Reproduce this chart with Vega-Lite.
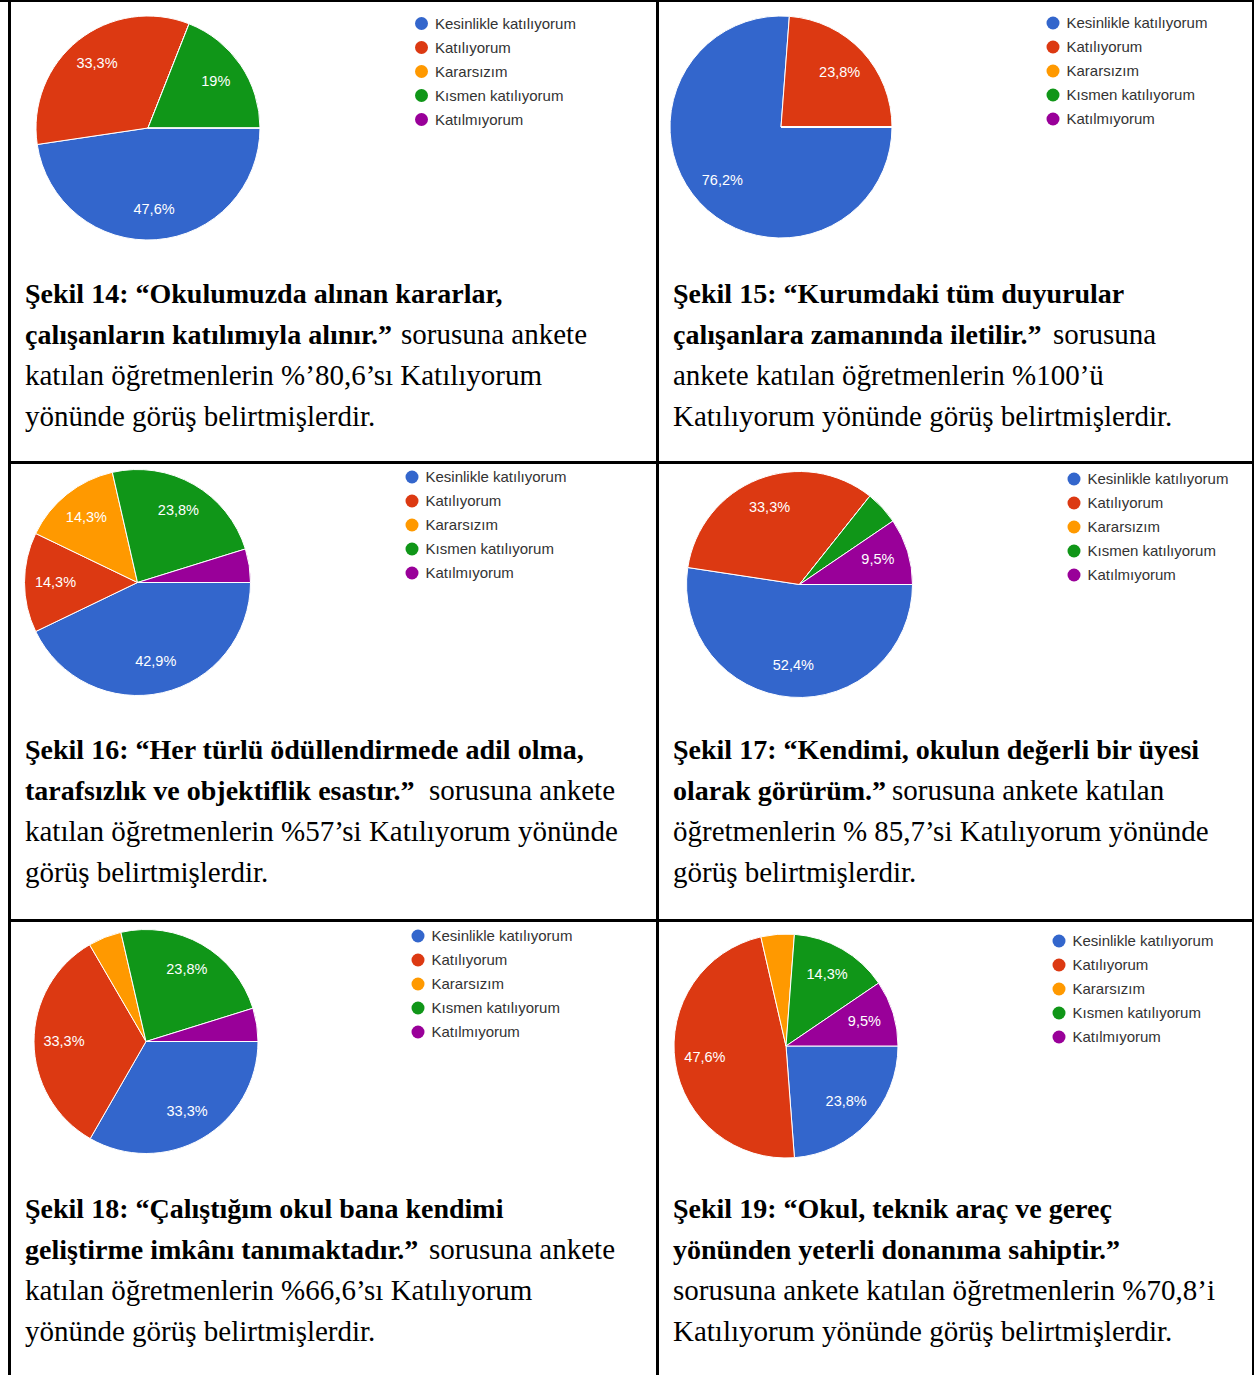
{
  "$schema": "https://vega.github.io/schema/vega-lite/v6.json",
  "background": "#000000",
  "padding": {"left": 0, "top": 2, "right": 2, "bottom": 0},
  "config": {
    "view": {"stroke": null, "fill": "#ffffff"},
    "legend": {"symbolSize": 169, "symbolType": "circle", "symbolOpacity": 1, "symbolStrokeWidth": 0, "labelFont": "Liberation Sans", "labelFontSize": 15, "labelColor": "#333333", "labelOffset": 6, "rowPadding": 8, "padding": 0, "labelLimit": 300}
  },
  "datasets": {
    "p14": [{"cat": "Kesinlikle katılıyorum", "k": 1, "v": 47.6, "lbl": "47,6%"}, {"cat": "Katılıyorum", "k": 2, "v": 33.3, "lbl": "33,3%"}, {"cat": "Kararsızım", "k": 3, "v": 0, "lbl": ""}, {"cat": "Kısmen katılıyorum", "k": 4, "v": 19, "lbl": "19%"}, {"cat": "Katılmıyorum", "k": 5, "v": 0, "lbl": ""}],
    "p15": [{"cat": "Kesinlikle katılıyorum", "k": 1, "v": 76.2, "lbl": "76,2%"}, {"cat": "Katılıyorum", "k": 2, "v": 23.8, "lbl": "23,8%"}, {"cat": "Kararsızım", "k": 3, "v": 0, "lbl": ""}, {"cat": "Kısmen katılıyorum", "k": 4, "v": 0, "lbl": ""}, {"cat": "Katılmıyorum", "k": 5, "v": 0, "lbl": ""}],
    "p16": [{"cat": "Kesinlikle katılıyorum", "k": 1, "v": 42.9, "lbl": "42,9%"}, {"cat": "Katılıyorum", "k": 2, "v": 14.3, "lbl": "14,3%"}, {"cat": "Kararsızım", "k": 3, "v": 14.3, "lbl": "14,3%"}, {"cat": "Kısmen katılıyorum", "k": 4, "v": 23.8, "lbl": "23,8%"}, {"cat": "Katılmıyorum", "k": 5, "v": 4.8, "lbl": ""}],
    "p17": [{"cat": "Kesinlikle katılıyorum", "k": 1, "v": 52.4, "lbl": "52,4%"}, {"cat": "Katılıyorum", "k": 2, "v": 33.3, "lbl": "33,3%"}, {"cat": "Kararsızım", "k": 3, "v": 0, "lbl": ""}, {"cat": "Kısmen katılıyorum", "k": 4, "v": 4.8, "lbl": ""}, {"cat": "Katılmıyorum", "k": 5, "v": 9.5, "lbl": "9,5%"}],
    "p18": [{"cat": "Kesinlikle katılıyorum", "k": 1, "v": 33.3, "lbl": "33,3%"}, {"cat": "Katılıyorum", "k": 2, "v": 33.3, "lbl": "33,3%"}, {"cat": "Kararsızım", "k": 3, "v": 4.8, "lbl": ""}, {"cat": "Kısmen katılıyorum", "k": 4, "v": 23.8, "lbl": "23,8%"}, {"cat": "Katılmıyorum", "k": 5, "v": 4.8, "lbl": ""}],
    "p19": [{"cat": "Kesinlikle katılıyorum", "k": 1, "v": 23.8, "lbl": "23,8%"}, {"cat": "Katılıyorum", "k": 2, "v": 47.6, "lbl": "47,6%"}, {"cat": "Kararsızım", "k": 3, "v": 4.8, "lbl": ""}, {"cat": "Kısmen katılıyorum", "k": 4, "v": 14.3, "lbl": "14,3%"}, {"cat": "Katılmıyorum", "k": 5, "v": 9.5, "lbl": "9,5%"}],
    "c14": [{"line": 0, "seg": 0, "role": "q", "text": "Şekil 14: “Okulumuzda alınan kararlar,"}, {"line": 1, "seg": 0, "role": "q", "text": "çalışanların katılımıyla alınır.”"}, {"line": 1, "seg": 1, "role": "a", "text": "sorusuna ankete"}, {"line": 2, "seg": 0, "role": "a", "text": "katılan öğretmenlerin %’80,6’sı Katılıyorum"}, {"line": 3, "seg": 0, "role": "a", "text": "yönünde görüş belirtmişlerdir."}],
    "c15": [{"line": 0, "seg": 0, "role": "q", "text": "Şekil 15: “Kurumdaki tüm duyurular"}, {"line": 1, "seg": 0, "role": "q", "text": "çalışanlara zamanında iletilir.”"}, {"line": 1, "seg": 1, "role": "a", "text": "sorusuna"}, {"line": 2, "seg": 0, "role": "a", "text": "ankete katılan öğretmenlerin %100’ü"}, {"line": 3, "seg": 0, "role": "a", "text": "Katılıyorum yönünde görüş belirtmişlerdir."}],
    "c16": [{"line": 0, "seg": 0, "role": "q", "text": "Şekil 16: “Her türlü ödüllendirmede adil olma,"}, {"line": 1, "seg": 0, "role": "q", "text": "tarafsızlık ve objektiflik esastır.”"}, {"line": 1, "seg": 1, "role": "a", "text": "sorusuna ankete"}, {"line": 2, "seg": 0, "role": "a", "text": "katılan öğretmenlerin %57’si Katılıyorum yönünde"}, {"line": 3, "seg": 0, "role": "a", "text": "görüş belirtmişlerdir."}],
    "c17": [{"line": 0, "seg": 0, "role": "q", "text": "Şekil 17: “Kendimi, okulun değerli bir üyesi"}, {"line": 1, "seg": 0, "role": "q", "text": "olarak görürüm.”"}, {"line": 1, "seg": 1, "role": "a", "text": "sorusuna ankete katılan"}, {"line": 2, "seg": 0, "role": "a", "text": "öğretmenlerin % 85,7’si Katılıyorum yönünde"}, {"line": 3, "seg": 0, "role": "a", "text": "görüş belirtmişlerdir."}],
    "c18": [{"line": 0, "seg": 0, "role": "q", "text": "Şekil 18: “Çalıştığım okul bana kendimi"}, {"line": 1, "seg": 0, "role": "q", "text": "geliştirme imkânı tanımaktadır.”"}, {"line": 1, "seg": 1, "role": "a", "text": "sorusuna ankete"}, {"line": 2, "seg": 0, "role": "a", "text": "katılan öğretmenlerin %66,6’sı Katılıyorum"}, {"line": 3, "seg": 0, "role": "a", "text": "yönünde görüş belirtmişlerdir."}],
    "c19": [{"line": 0, "seg": 0, "role": "q", "text": "Şekil 19: “Okul, teknik araç ve gereç"}, {"line": 1, "seg": 0, "role": "q", "text": "yönünden yeterli donanıma sahiptir.”"}, {"line": 2, "seg": 0, "role": "a", "text": "sorusuna ankete katılan öğretmenlerin %70,8’i"}, {"line": 3, "seg": 0, "role": "a", "text": "Katılıyorum yönünde görüş belirtmişlerdir."}]
  },
  "resolve": {"scale": {"color": "independent", "theta": "independent", "x": "independent", "y": "independent"}, "legend": {"color": "independent"}},
  "spacing": 3,
  "hconcat": [
    {"width": 8, "height": 1373, "view": {"fill": "#ffffff", "stroke": null}, "data": {"values": [{"t": ""}]}, "mark": {"type": "text"}, "encoding": {"text": {"field": "t"}}},
    {
      "vconcat": [
        {
          "hconcat": [
            {
              "vconcat": [
                {"hconcat": [
                  {"width": 274, "height": 252, "view": {"fill": "#ffffff", "stroke": null}, "data": {"name": "p14"}, "encoding": {"theta": {"field": "v", "type": "quantitative", "stack": true, "scale": {"range": [1.5707963, 7.8539816]}}, "order": {"field": "k", "type": "quantitative"}},
                   "layer": [
                     {"mark": {"type": "arc", "radius": 112, "stroke": "#ffffff", "strokeWidth": 1}, "encoding": {"color": {"field": "cat", "type": "nominal", "scale": {"domain": ["Kesinlikle katılıyorum", "Katılıyorum", "Kararsızım", "Kısmen katılıyorum", "Katılmıyorum"], "range": ["#3366cc", "#dc3912", "#ff9900", "#109618", "#990099"]}, "legend": null}}},
                     {"mark": {"type": "text", "radius": 82, "fill": "#ffffff", "font": "Liberation Sans", "fontSize": 14.5}, "encoding": {"text": {"field": "lbl"}}}
                   ]},
                  {"width": 371, "height": 252, "view": {"fill": "#ffffff", "stroke": null}, "data": {"name": "p14"}, "mark": {"type": "circle", "opacity": 0}, "encoding": {"color": {"field": "cat", "type": "nominal", "scale": {"domain": ["Kesinlikle katılıyorum", "Katılıyorum", "Kararsızım", "Kısmen katılıyorum", "Katılmıyorum"], "range": ["#3366cc", "#dc3912", "#ff9900", "#109618", "#990099"]}, "legend": {"title": null, "orient": "none", "legendX": 129, "legendY": 14}}}}
                ], "spacing": 0, "resolve": {"scale": {"color": "independent", "theta": "independent", "x": "independent", "y": "independent"}, "legend": {"color": "independent"}}},
                {"width": 645, "height": 207, "data": {"name": "c14"},
                 "encoding": {"x": {"field": "seg", "type": "quantitative", "scale": {"domain": [0, 1], "range": [14, 390]}, "axis": null}, "y": {"field": "line", "type": "quantitative", "scale": {"domain": [0, 3], "range": [49, 172]}, "axis": null}, "text": {"field": "text"}},
                 "layer": [
                   {"transform": [{"filter": "datum.role == 'q'"}], "mark": {"type": "text", "align": "left", "baseline": "alphabetic", "font": "Liberation Serif", "fontSize": 28, "fontWeight": "bold", "fill": "#000000"}},
                   {"transform": [{"filter": "datum.role == 'a'"}], "mark": {"type": "text", "align": "left", "baseline": "alphabetic", "font": "Liberation Serif", "fontSize": 29, "fill": "#000000"}}
                 ]}
              ], "spacing": 0, "resolve": {"scale": {"color": "independent", "theta": "independent", "x": "independent", "y": "independent"}, "legend": {"color": "independent"}}
            },
            {
              "vconcat": [
                {"hconcat": [
                  {"width": 244, "height": 250, "view": {"fill": "#ffffff", "stroke": null}, "data": {"name": "p15"}, "encoding": {"theta": {"field": "v", "type": "quantitative", "stack": true, "scale": {"range": [1.5707963, 7.8539816]}}, "order": {"field": "k", "type": "quantitative"}},
                   "layer": [
                     {"mark": {"type": "arc", "radius": 111, "stroke": "#ffffff", "strokeWidth": 1}, "encoding": {"color": {"field": "cat", "type": "nominal", "scale": {"domain": ["Kesinlikle katılıyorum", "Katılıyorum", "Kararsızım", "Kısmen katılıyorum", "Katılmıyorum"], "range": ["#3366cc", "#dc3912", "#ff9900", "#109618", "#990099"]}, "legend": null}}},
                     {"mark": {"type": "text", "radius": 80, "fill": "#ffffff", "font": "Liberation Sans", "fontSize": 14.5}, "encoding": {"text": {"field": "lbl"}}}
                   ]},
                  {"width": 349, "height": 250, "view": {"fill": "#ffffff", "stroke": null}, "data": {"name": "p15"}, "mark": {"type": "circle", "opacity": 0}, "encoding": {"color": {"field": "cat", "type": "nominal", "scale": {"domain": ["Kesinlikle katılıyorum", "Katılıyorum", "Kararsızım", "Kısmen katılıyorum", "Katılmıyorum"], "range": ["#3366cc", "#dc3912", "#ff9900", "#109618", "#990099"]}, "legend": {"title": null, "orient": "none", "legendX": 142.5, "legendY": 13.5}}}}
                ], "spacing": 0, "resolve": {"scale": {"color": "independent", "theta": "independent", "x": "independent", "y": "independent"}, "legend": {"color": "independent"}}},
                {"width": 593, "height": 209, "data": {"name": "c15"},
                 "encoding": {"x": {"field": "seg", "type": "quantitative", "scale": {"domain": [0, 1], "range": [14, 394]}, "axis": null}, "y": {"field": "line", "type": "quantitative", "scale": {"domain": [0, 3], "range": [51, 174]}, "axis": null}, "text": {"field": "text"}},
                 "layer": [
                   {"transform": [{"filter": "datum.role == 'q'"}], "mark": {"type": "text", "align": "left", "baseline": "alphabetic", "font": "Liberation Serif", "fontSize": 28, "fontWeight": "bold", "fill": "#000000"}},
                   {"transform": [{"filter": "datum.role == 'a'"}], "mark": {"type": "text", "align": "left", "baseline": "alphabetic", "font": "Liberation Serif", "fontSize": 29, "fill": "#000000"}}
                 ]}
              ], "spacing": 0, "resolve": {"scale": {"color": "independent", "theta": "independent", "x": "independent", "y": "independent"}, "legend": {"color": "independent"}}
            }
          ], "spacing": 3, "resolve": {"scale": {"color": "independent", "theta": "independent", "x": "independent", "y": "independent"}, "legend": {"color": "independent"}}
        },
        {
          "hconcat": [
            {
              "vconcat": [
                {"hconcat": [
                  {"width": 253, "height": 237, "view": {"fill": "#ffffff", "stroke": null}, "data": {"name": "p16"}, "encoding": {"theta": {"field": "v", "type": "quantitative", "stack": true, "scale": {"range": [1.5707963, 7.8539816]}}, "order": {"field": "k", "type": "quantitative"}},
                   "layer": [
                     {"mark": {"type": "arc", "radius": 113, "stroke": "#ffffff", "strokeWidth": 1}, "encoding": {"color": {"field": "cat", "type": "nominal", "scale": {"domain": ["Kesinlikle katılıyorum", "Katılıyorum", "Kararsızım", "Kısmen katılıyorum", "Katılmıyorum"], "range": ["#3366cc", "#dc3912", "#ff9900", "#109618", "#990099"]}, "legend": null}}},
                     {"mark": {"type": "text", "radius": 82, "fill": "#ffffff", "font": "Liberation Sans", "fontSize": 14.5}, "encoding": {"text": {"field": "lbl"}}}
                   ]},
                  {"width": 392, "height": 237, "view": {"fill": "#ffffff", "stroke": null}, "data": {"name": "p16"}, "mark": {"type": "circle", "opacity": 0}, "encoding": {"color": {"field": "cat", "type": "nominal", "scale": {"domain": ["Kesinlikle katılıyorum", "Katılıyorum", "Kararsızım", "Kısmen katılıyorum", "Katılmıyorum"], "range": ["#3366cc", "#dc3912", "#ff9900", "#109618", "#990099"]}, "legend": {"title": null, "orient": "none", "legendX": 140.5, "legendY": 5.5}}}}
                ], "spacing": 0, "resolve": {"scale": {"color": "independent", "theta": "independent", "x": "independent", "y": "independent"}, "legend": {"color": "independent"}}},
                {"width": 645, "height": 218, "data": {"name": "c16"},
                 "encoding": {"x": {"field": "seg", "type": "quantitative", "scale": {"domain": [0, 1], "range": [14, 418]}, "axis": null}, "y": {"field": "line", "type": "quantitative", "scale": {"domain": [0, 3], "range": [58, 181]}, "axis": null}, "text": {"field": "text"}},
                 "layer": [
                   {"transform": [{"filter": "datum.role == 'q'"}], "mark": {"type": "text", "align": "left", "baseline": "alphabetic", "font": "Liberation Serif", "fontSize": 28, "fontWeight": "bold", "fill": "#000000"}},
                   {"transform": [{"filter": "datum.role == 'a'"}], "mark": {"type": "text", "align": "left", "baseline": "alphabetic", "font": "Liberation Serif", "fontSize": 29, "fill": "#000000"}}
                 ]}
              ], "spacing": 0, "resolve": {"scale": {"color": "independent", "theta": "independent", "x": "independent", "y": "independent"}, "legend": {"color": "independent"}}
            },
            {
              "vconcat": [
                {"hconcat": [
                  {"width": 281, "height": 241, "view": {"fill": "#ffffff", "stroke": null}, "data": {"name": "p17"}, "encoding": {"theta": {"field": "v", "type": "quantitative", "stack": true, "scale": {"range": [1.5707963, 7.8539816]}}, "order": {"field": "k", "type": "quantitative"}},
                   "layer": [
                     {"mark": {"type": "arc", "radius": 113, "stroke": "#ffffff", "strokeWidth": 1}, "encoding": {"color": {"field": "cat", "type": "nominal", "scale": {"domain": ["Kesinlikle katılıyorum", "Katılıyorum", "Kararsızım", "Kısmen katılıyorum", "Katılmıyorum"], "range": ["#3366cc", "#dc3912", "#ff9900", "#109618", "#990099"]}, "legend": null}}},
                     {"mark": {"type": "text", "radius": 82, "fill": "#ffffff", "font": "Liberation Sans", "fontSize": 14.5}, "encoding": {"text": {"field": "lbl"}}}
                   ]},
                  {"width": 312, "height": 241, "view": {"fill": "#ffffff", "stroke": null}, "data": {"name": "p17"}, "mark": {"type": "circle", "opacity": 0}, "encoding": {"color": {"field": "cat", "type": "nominal", "scale": {"domain": ["Kesinlikle katılıyorum", "Katılıyorum", "Kararsızım", "Kısmen katılıyorum", "Katılmıyorum"], "range": ["#3366cc", "#dc3912", "#ff9900", "#109618", "#990099"]}, "legend": {"title": null, "orient": "none", "legendX": 126.5, "legendY": 7.5}}}}
                ], "spacing": 0, "resolve": {"scale": {"color": "independent", "theta": "independent", "x": "independent", "y": "independent"}, "legend": {"color": "independent"}}},
                {"width": 593, "height": 214, "data": {"name": "c17"},
                 "encoding": {"x": {"field": "seg", "type": "quantitative", "scale": {"domain": [0, 1], "range": [14, 233]}, "axis": null}, "y": {"field": "line", "type": "quantitative", "scale": {"domain": [0, 3], "range": [54, 177]}, "axis": null}, "text": {"field": "text"}},
                 "layer": [
                   {"transform": [{"filter": "datum.role == 'q'"}], "mark": {"type": "text", "align": "left", "baseline": "alphabetic", "font": "Liberation Serif", "fontSize": 28, "fontWeight": "bold", "fill": "#000000"}},
                   {"transform": [{"filter": "datum.role == 'a'"}], "mark": {"type": "text", "align": "left", "baseline": "alphabetic", "font": "Liberation Serif", "fontSize": 29, "fill": "#000000"}}
                 ]}
              ], "spacing": 0, "resolve": {"scale": {"color": "independent", "theta": "independent", "x": "independent", "y": "independent"}, "legend": {"color": "independent"}}
            }
          ], "spacing": 3, "resolve": {"scale": {"color": "independent", "theta": "independent", "x": "independent", "y": "independent"}, "legend": {"color": "independent"}}
        },
        {
          "hconcat": [
            {
              "vconcat": [
                {"hconcat": [
                  {"width": 270, "height": 239, "view": {"fill": "#ffffff", "stroke": null}, "data": {"name": "p18"}, "encoding": {"theta": {"field": "v", "type": "quantitative", "stack": true, "scale": {"range": [1.5707963, 7.8539816]}}, "order": {"field": "k", "type": "quantitative"}},
                   "layer": [
                     {"mark": {"type": "arc", "radius": 112, "stroke": "#ffffff", "strokeWidth": 1}, "encoding": {"color": {"field": "cat", "type": "nominal", "scale": {"domain": ["Kesinlikle katılıyorum", "Katılıyorum", "Kararsızım", "Kısmen katılıyorum", "Katılmıyorum"], "range": ["#3366cc", "#dc3912", "#ff9900", "#109618", "#990099"]}, "legend": null}}},
                     {"mark": {"type": "text", "radius": 82, "fill": "#ffffff", "font": "Liberation Sans", "fontSize": 14.5}, "encoding": {"text": {"field": "lbl"}}}
                   ]},
                  {"width": 375, "height": 239, "view": {"fill": "#ffffff", "stroke": null}, "data": {"name": "p18"}, "mark": {"type": "circle", "opacity": 0}, "encoding": {"color": {"field": "cat", "type": "nominal", "scale": {"domain": ["Kesinlikle katılıyorum", "Katılıyorum", "Kararsızım", "Kısmen katılıyorum", "Katılmıyorum"], "range": ["#3366cc", "#dc3912", "#ff9900", "#109618", "#990099"]}, "legend": {"title": null, "orient": "none", "legendX": 129.5, "legendY": 6.5}}}}
                ], "spacing": 0, "resolve": {"scale": {"color": "independent", "theta": "independent", "x": "independent", "y": "independent"}, "legend": {"color": "independent"}}},
                {"width": 645, "height": 214, "data": {"name": "c18"},
                 "encoding": {"x": {"field": "seg", "type": "quantitative", "scale": {"domain": [0, 1], "range": [14, 418]}, "axis": null}, "y": {"field": "line", "type": "quantitative", "scale": {"domain": [0, 3], "range": [57, 180]}, "axis": null}, "text": {"field": "text"}},
                 "layer": [
                   {"transform": [{"filter": "datum.role == 'q'"}], "mark": {"type": "text", "align": "left", "baseline": "alphabetic", "font": "Liberation Serif", "fontSize": 28, "fontWeight": "bold", "fill": "#000000"}},
                   {"transform": [{"filter": "datum.role == 'a'"}], "mark": {"type": "text", "align": "left", "baseline": "alphabetic", "font": "Liberation Serif", "fontSize": 29, "fill": "#000000"}}
                 ]}
              ], "spacing": 0, "resolve": {"scale": {"color": "independent", "theta": "independent", "x": "independent", "y": "independent"}, "legend": {"color": "independent"}}
            },
            {
              "vconcat": [
                {"hconcat": [
                  {"width": 254, "height": 248, "view": {"fill": "#ffffff", "stroke": null}, "data": {"name": "p19"}, "encoding": {"theta": {"field": "v", "type": "quantitative", "stack": true, "scale": {"range": [1.5707963, 7.8539816]}}, "order": {"field": "k", "type": "quantitative"}},
                   "layer": [
                     {"mark": {"type": "arc", "radius": 112, "stroke": "#ffffff", "strokeWidth": 1}, "encoding": {"color": {"field": "cat", "type": "nominal", "scale": {"domain": ["Kesinlikle katılıyorum", "Katılıyorum", "Kararsızım", "Kısmen katılıyorum", "Katılmıyorum"], "range": ["#3366cc", "#dc3912", "#ff9900", "#109618", "#990099"]}, "legend": null}}},
                     {"mark": {"type": "text", "radius": 82, "fill": "#ffffff", "font": "Liberation Sans", "fontSize": 14.5}, "encoding": {"text": {"field": "lbl"}}}
                   ]},
                  {"width": 339, "height": 248, "view": {"fill": "#ffffff", "stroke": null}, "data": {"name": "p19"}, "mark": {"type": "circle", "opacity": 0}, "encoding": {"color": {"field": "cat", "type": "nominal", "scale": {"domain": ["Kesinlikle katılıyorum", "Katılıyorum", "Kararsızım", "Kısmen katılıyorum", "Katılmıyorum"], "range": ["#3366cc", "#dc3912", "#ff9900", "#109618", "#990099"]}, "legend": {"title": null, "orient": "none", "legendX": 138.5, "legendY": 11.5}}}}
                ], "spacing": 0, "resolve": {"scale": {"color": "independent", "theta": "independent", "x": "independent", "y": "independent"}, "legend": {"color": "independent"}}},
                {"width": 593, "height": 205, "data": {"name": "c19"},
                 "encoding": {"x": {"field": "seg", "type": "quantitative", "scale": {"domain": [0, 1], "range": [14, 400]}, "axis": null}, "y": {"field": "line", "type": "quantitative", "scale": {"domain": [0, 3], "range": [48, 171]}, "axis": null}, "text": {"field": "text"}},
                 "layer": [
                   {"transform": [{"filter": "datum.role == 'q'"}], "mark": {"type": "text", "align": "left", "baseline": "alphabetic", "font": "Liberation Serif", "fontSize": 28, "fontWeight": "bold", "fill": "#000000"}},
                   {"transform": [{"filter": "datum.role == 'a'"}], "mark": {"type": "text", "align": "left", "baseline": "alphabetic", "font": "Liberation Serif", "fontSize": 29, "fill": "#000000"}}
                 ]}
              ], "spacing": 0, "resolve": {"scale": {"color": "independent", "theta": "independent", "x": "independent", "y": "independent"}, "legend": {"color": "independent"}}
            }
          ], "spacing": 3, "resolve": {"scale": {"color": "independent", "theta": "independent", "x": "independent", "y": "independent"}, "legend": {"color": "independent"}}
        }
      ],
      "spacing": 3, "resolve": {"scale": {"color": "independent", "theta": "independent", "x": "independent", "y": "independent"}, "legend": {"color": "independent"}}
    }
  ]
}
